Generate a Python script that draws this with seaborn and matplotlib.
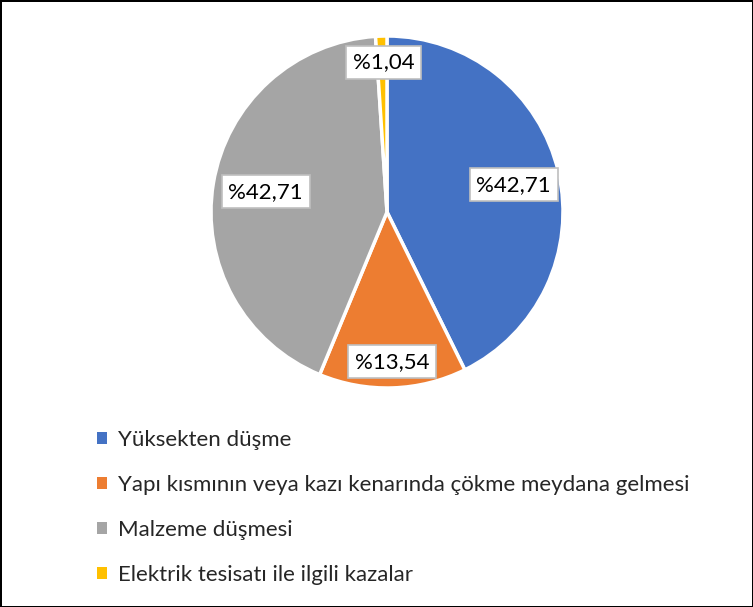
import matplotlib
matplotlib.use("Agg")
import matplotlib.pyplot as plt
from matplotlib.patches import Patch
import seaborn as sns

# veriler
kategoriler = [
    "Yüksekten düşme",
    "Yapı kısmının veya kazı kenarında çökme meydana gelmesi",
    "Malzeme düşmesi",
    "Elektrik tesisatı ile ilgili kazalar",
]
oranlar = [42.71, 13.54, 42.71, 1.04]
etiketler = ["%42,71", "%13,54", "%42,71", "%1,04"]
renkler = ["#4472C4", "#ED7D31", "#A5A5A5", "#FFC000"]

sns.set_theme(style="white")
plt.rcParams["font.family"] = ["Lato", "DejaVu Sans"]

fig = plt.figure(figsize=(7.53, 6.07), dpi=100)
fig.patch.set_edgecolor("black")
fig.patch.set_linewidth(2)

ax = fig.add_axes([193.4 / 753, 201.4 / 607, 387.2 / 753, 387.2 / 607])
wedges, _ = ax.pie(
    oranlar,
    colors=renkler,
    startangle=90,
    counterclock=False,
    wedgeprops=dict(edgecolor="white", linewidth=2.5),
)
ax.set_xlim(-1.1, 1.1)
ax.set_ylim(-1.1, 1.1)

# etiket konumlari (Excel "best fit" yerlesimi)
konumlar = [(0.72, 0.155), (0.03, -0.85), (-0.69, 0.115), (-0.02, 0.85)]
for (x, y), metin in zip(konumlar, etiketler):
    ax.text(x, y, metin, ha="center", va="center", fontsize=16, color="black",
            bbox=dict(boxstyle="square,pad=0.3", fc="white", ec="#BFBFBF", lw=1.2))

handles = [Patch(facecolor=c, edgecolor="none") for c in renkler]
fig.legend(handles, kategoriler, loc="upper left",
           bbox_to_anchor=(77 / 753, 1 - 410 / 607), frameon=False,
           fontsize=16, handlelength=0.45, handleheight=0.45,
           handletextpad=0.5, labelspacing=1.12)

fig.savefig("out.png", dpi=100)
